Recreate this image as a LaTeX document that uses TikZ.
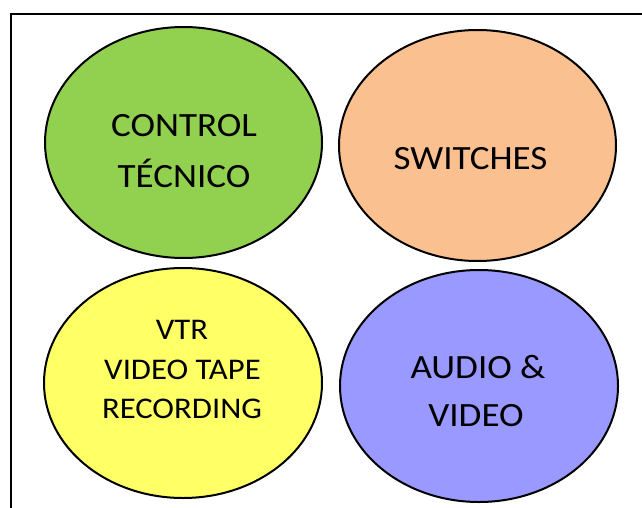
\documentclass[tikz,border=0pt]{standalone}
\usepackage{fontspec}
\setmainfont{Carlito}[FakeStretch=1.09]
\usetikzlibrary{shapes.geometric}
\definecolor{cgreen}{HTML}{92D050}
\definecolor{corange}{HTML}{FAC090}
\definecolor{cyellow}{HTML}{FFFF66}
\definecolor{cblue}{HTML}{9999FF}
\tikzset{
  blob/.style={ellipse, draw=black, line width=2pt, inner sep=0pt},
  bigtxt/.style={anchor=base, inner sep=0pt, font=\fontsize{34}{40}\selectfont},
  smalltxt/.style={anchor=base, inner sep=0pt, font=\fontsize{30}{36}\selectfont},
}
\begin{document}
\begin{tikzpicture}[x=1pt,y=-1pt]
\useasboundingbox (0,0) rectangle (642,508);
\draw[line width=2.2pt] (660,14) -- (11,14) -- (11,530);
\node[blob, fill=cgreen, minimum width=277pt, minimum height=231pt] (ctrl) at (183.5,142.5) {};
\node[blob, fill=corange, minimum width=277pt, minimum height=231pt] (sw) at (477.5,145.5) {};
\node[blob, fill=cyellow, minimum width=278pt, minimum height=230pt] (vtr) at (183,383) {};
\node[blob, fill=cblue, minimum width=278pt, minimum height=232pt] (av) at (479,386) {};
\node[bigtxt] (t1) at (184,136) {CONTROL};
\node[bigtxt] (t2) at (184,187) {TÉCNICO};
\node[bigtxt] (t3) at (470.5,169) {SWITCHES};
\node[smalltxt] (t4) at (182,339) {VTR};
\node[smalltxt] (t5) at (182.5,379) {VIDEO TAPE};
\node[smalltxt] (t6) at (182,418) {RECORDING};
\node[bigtxt] (t7) at (478,378) {AUDIO \&};
\node[bigtxt] (t8) at (476,426) {VIDEO};
\end{tikzpicture}
\end{document}
